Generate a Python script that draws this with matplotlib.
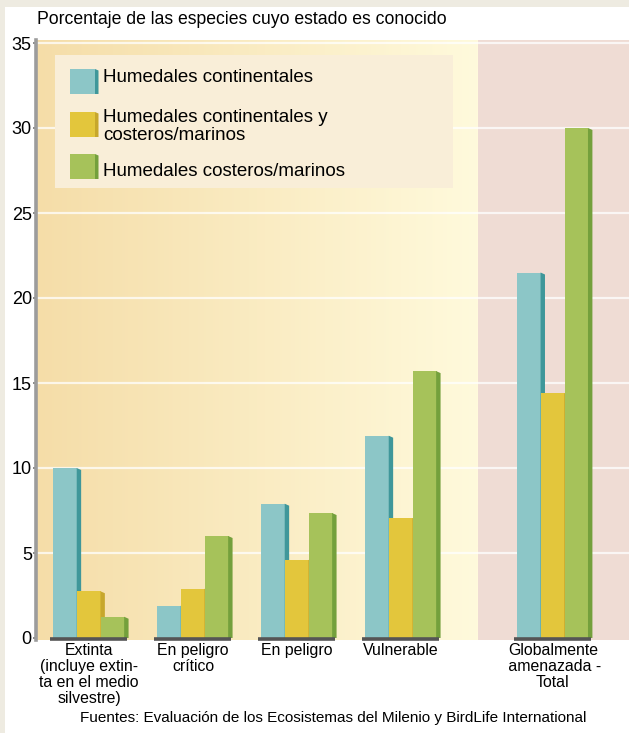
import numpy as np
import matplotlib
matplotlib.use("Agg")
import matplotlib.pyplot as plt
from matplotlib.patches import Rectangle, Polygon
from matplotlib import font_manager

# ---- data -------------------------------------------------------------
categories = [
    "Extinta\n(incluye extin-\nta en el medio\nsilvestre)",
    "En peligro\ncrítico",
    "En peligro",
    "Vulnerable",
    "Globalmente\n amenazada -\nTotal",
]
series_names = [
    "Humedales continentales",
    "Humedales continentales y\ncosteros/marinos",
    "Humedales costeros/marinos",
]
continentales = [10.0, 1.9, 7.9, 11.9, 21.5]
mixtos = [2.75, 2.9, 4.6, 7.05, 14.4]
costeros = [1.25, 6.0, 7.35, 15.7, 30.0]
yticks = [0, 5, 10, 15, 20, 25, 30, 35]

title = "Porcentaje de las especies cuyo estado es conocido"
source = "Fuentes: Evaluación de los Ecosistemas del Milenio y BirdLife International"

# ---- styling ----------------------------------------------------------
W, H = 629, 733
DPI = 100

available = {f.name for f in font_manager.fontManager.ttflist}
narrow = "Liberation Sans Narrow" if "Liberation Sans Narrow" in available else "Liberation Sans"
plt.rcParams["font.family"] = ["Liberation Sans", "DejaVu Sans"]

face_colors = ["#8cc6c7", "#e3c63c", "#a6c25a"]
side_colors = ["#3f979a", "#c7a72c", "#74a03c"]

fig = plt.figure(figsize=(W / DPI, H / DPI), dpi=DPI, facecolor="white")


def fx(px):
    return px / W


def fy(py):
    return 1 - py / H


# thin beige frame along the top and left edges
fig.patches.append(Rectangle((0, fy(7)), 1, 7 / H, transform=fig.transFigure,
                             facecolor="#eeebe1", edgecolor="none", zorder=0))
fig.patches.append(Rectangle((0, 0), fx(5), 1, transform=fig.transFigure,
                             facecolor="#eeebe1", edgecolor="none", zorder=0))

ax_left, ax_right, ax_top, ax_bottom = 36, 629, 40, 640
ax = fig.add_axes([fx(ax_left), fy(ax_bottom), fx(ax_right - ax_left),
                   (ax_bottom - ax_top) / H])
ax.set_facecolor("none")

px_per_unit_x = 104.0
px_per_unit_y = 17.0
zero_px = 638
xmin = (ax_left - 89) / px_per_unit_x
xmax = (ax_right - 89) / px_per_unit_x
ymin = -(ax_bottom - zero_px) / px_per_unit_y
ymax = (zero_px - ax_top) / px_per_unit_y
ax.set_xlim(xmin, xmax)
ax.set_ylim(ymin, ymax)

# background: warm gradient for the individual categories, pink panel for the total
split = 3.74
c_left = np.array([245, 221, 168]) / 255
c_right = np.array([255, 250, 220]) / 255
t = np.linspace(0, 1, 256)[None, :, None]
grad = c_left + (c_right - c_left) * t
ax.imshow(grad, extent=[xmin, split, ymin, ymax], aspect="auto",
          interpolation="bilinear", zorder=0)
ax.add_patch(Rectangle((split, ymin), xmax - split, ymax - ymin,
                       facecolor="#efdcd4", edgecolor="none", zorder=0))

# horizontal white grid
for yv in yticks[1:]:
    ax.axhline(yv, color="white", lw=1.6, alpha=0.75, zorder=1)

# legend panel
ax.add_patch(Rectangle((fx(55), fy(188)), fx(453 - 55), (188 - 55) / H,
                       transform=fig.transFigure, facecolor="#f9eed8",
                       edgecolor="none", zorder=2))

# bars with a darker side face for a little depth
positions = [0, 1, 2, 3, 4.46]
bw = 0.228
offsets = [-bw, 0, bw]
side_w = 4 / px_per_unit_x
slant = 2 / px_per_unit_y
all_series = [continentales, mixtos, costeros]
z = 3
for gi, xc in enumerate(positions):
    for si, vals in enumerate(all_series):
        v = vals[gi]
        x0 = xc + offsets[si] - bw / 2
        ax.bar(x0, v, width=bw, align="edge", color=face_colors[si],
               edgecolor="none", zorder=z)
        xr = x0 + bw
        ax.add_patch(Polygon([(xr - 0.004, 0), (xr + side_w, 0),
                              (xr + side_w, v - slant), (xr - 0.004, v)],
                             closed=True, facecolor=side_colors[si],
                             edgecolor="none", zorder=z + 0.5))
        z += 1
    # dark base plinth under each group
    ax.plot([xc - 0.375, xc + 0.37], [ymin / 2, ymin / 2], color="#555555",
            lw=2.6, solid_capstyle="butt", zorder=z, clip_on=False)
    z += 1

# axes decoration
for s in ["top", "right", "bottom"]:
    ax.spines[s].set_visible(False)
ax.spines["left"].set_color("#9c9c9c")
ax.spines["left"].set_linewidth(2.6)
ax.set_yticks(yticks)
ax.set_yticklabels([str(v) for v in yticks], family=[narrow, "DejaVu Sans"],
                   fontsize=13)
ax.tick_params(axis="y", length=2, width=1.2, color="#777777", pad=1)
ax.set_xticks(positions)
ax.set_xticklabels(categories, fontsize=11.4, linespacing=1.08)
ax.tick_params(axis="x", length=0, pad=2)

# legend entries: marker square with side face, then the label lines
legend_markers = [69, 112, 154]
legend_lines = [[(77, "Humedales continentales")],
                [(117, "Humedales continentales y"), (135, "costeros/marinos")],
                [(172, "Humedales costeros/marinos")]]
for si, my in enumerate(legend_markers):
    fig.patches.append(Rectangle((fx(70), fy(my + 25)), fx(25), 25 / H,
                                 transform=fig.transFigure,
                                 facecolor=face_colors[si], edgecolor="none",
                                 zorder=5))
    fig.patches.append(Polygon([(fx(95), fy(my + 25)), (fx(98.5), fy(my + 25)),
                                (fx(98.5), fy(my + 1.5)), (fx(95), fy(my))],
                               closed=True, transform=fig.transFigure,
                               facecolor=side_colors[si], edgecolor="none",
                               zorder=5))
    for ty, line in legend_lines[si]:
        fig.text(fx(103), fy(ty), line, fontsize=13.5, va="center",
                 ha="left", zorder=6)

fig.text(fx(37), fy(20), title, fontsize=12.7, family=[narrow, "DejaVu Sans"],
         ha="left", va="center")
fig.text(fx(333), fy(718), source, fontsize=11, ha="center", va="center")

fig.savefig("out.png", dpi=DPI, facecolor="white")
